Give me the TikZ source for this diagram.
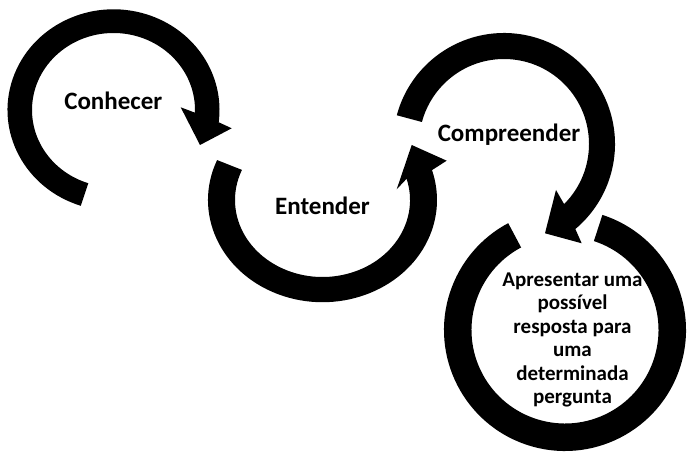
\documentclass[tikz,border=0pt]{standalone}
\usepackage{fontspec}
\setmainfont{Carlito}
\usetikzlibrary{calc}
\begin{document}
\begin{tikzpicture}[x=1pt,y=1pt,
  band/.style={fill=black},
  lbl/.style={font=\bfseries\fontsize{25}{30}\selectfont, inner sep=0pt, text=black},
  smalllbl/.style={font=\bfseries\fontsize{21}{23.4}\selectfont, inner sep=0pt, align=center, text=black}]
\useasboundingbox (0,0) rectangle (688,455);
% centres
\coordinate (c1) at (113.5,345);
\coordinate (c2) at (322.5,255);
\coordinate (c3) at (504,311);
\coordinate (c4) at (565,125);
% arrow heads
\coordinate (h1o) at (231.7,326.7);
\coordinate (h1t) at (200,310);
\coordinate (h1i) at (180.7,347.7);
\coordinate (h2o) at (446.7,294.3);
\coordinate (h2t) at (411.7,310);
\coordinate (h2i) at (396.7,265.7);
\coordinate (h3o) at (581.7,211.7);
\coordinate (h3t) at (545,221.7);
\coordinate (h3i) at (556,265);
% arrow 1
\fill[band] ($(c1)+(252:106 and 100.7)$) arc[start angle=252, end angle=-7, x radius=106, y radius=100.7]
  -- (h1o) -- (h1t) -- (h1i) -- ($(c1)+(-2:81.5 and 77)$)
  arc[start angle=-2, end angle=252, x radius=81.5, y radius=77] -- cycle;
% arrow 2
\fill[band] ($(c2)+(157:114.5 and 102.2)$) arc[start angle=157, end angle=377, x radius=114.5, y radius=102.2]
  -- (h2o) -- (h2t) -- (h2i) -- ($(c2)+(16:87.5 and 77)$)
  arc[start angle=16, end angle=-203, x radius=87.5, y radius=77] -- cycle;
% arrow 3
\fill[band] ($(c3)+(165:111)$) arc[start angle=165, end angle=-50, radius=111]
  -- (h3o) -- (h3t) -- (h3i) -- ($(c3)+(-45:85)$)
  arc[start angle=-45, end angle=165, radius=85] -- cycle;
% ring
\fill[band] ($(c4)+(72:121)$) arc[start angle=72, end angle=-242, radius=121]
  -- ($(c4)+(118:93.5)$) arc[start angle=118, end angle=432, radius=93.5] -- cycle;
% labels
\node[lbl, anchor=base] (conhecer) at (113.3,345) {Conhecer};
\node[lbl, anchor=base] (entender) at (322.5,240) {Entender};
\node[lbl, anchor=base] (compreender) at (509,313.3) {Compreender};
\node[smalllbl] (resposta) at (572.5,115) {Apresentar uma\\possível\\resposta para\\uma\\determinada\\pergunta};
\end{tikzpicture}
\end{document}
